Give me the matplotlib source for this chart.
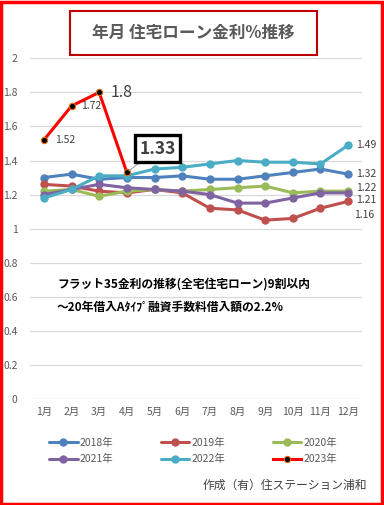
import matplotlib
matplotlib.use("Agg")
import matplotlib.pyplot as plt
from matplotlib.patches import Rectangle

plt.rcParams['font.family'] = ['Noto Sans CJK JP', 'DejaVu Sans']

# --- data ---
months = ["1月", "2月", "3月", "4月", "5月", "6月",
          "7月", "8月", "9月", "10月", "11月", "12月"]
r2018 = [1.30, 1.32, 1.29, 1.30, 1.30, 1.31, 1.29, 1.29, 1.31, 1.33, 1.35, 1.32]
r2019 = [1.26, 1.25, 1.22, 1.21, 1.23, 1.21, 1.12, 1.11, 1.05, 1.06, 1.12, 1.16]
r2020 = [1.22, 1.23, 1.19, 1.22, 1.23, 1.22, 1.23, 1.24, 1.25, 1.21, 1.22, 1.22]
r2021 = [1.20, 1.23, 1.26, 1.24, 1.23, 1.22, 1.20, 1.15, 1.15, 1.18, 1.21, 1.21]
r2022 = [1.18, 1.23, 1.31, 1.31, 1.35, 1.36, 1.38, 1.40, 1.39, 1.39, 1.38, 1.49]
r2023 = [1.52, 1.72, 1.80, 1.33]

series = [("2018年", r2018, "#4F81BD"),
          ("2019年", r2019, "#C0504D"),
          ("2020年", r2020, "#9BBB59"),
          ("2021年", r2021, "#8064A2"),
          ("2022年", r2022, "#4BACC6")]

W, H = 384, 505
fig = plt.figure(figsize=(W / 100, H / 100), dpi=100)

def fx(px):
    return px / W

def fy(py):
    return 1 - py / H

ax = fig.add_axes([fx(30), fy(399), fx(362) - fx(30), fy(58.3) - fy(399)])
x = list(range(12))

handles = []
for name, vals, col in series:
    h, = ax.plot(x, vals, color=col, lw=2.2, marker="o", ms=5, label=name,
                 solid_capstyle="round")
    handles.append(h)
h23, = ax.plot(x[:4], r2023, color="#FF0000", lw=2.2, marker="o", ms=4.5,
               mfc="black", mec="#E46C0A", mew=0.8, label="2023年")
handles.append(h23)

ax.set_xlim(-0.5, 11.5)
ax.set_ylim(0, 2)
ax.set_yticks([0, 0.2, 0.4, 0.6, 0.8, 1, 1.2, 1.4, 1.6, 1.8, 2])
ax.set_yticklabels(["0", "0.2", "0.4", "0.6", "0.8", "1", "1.2", "1.4",
                    "1.6", "1.8", "2"])
ax.set_xticks(x)
ax.set_xticklabels(months)
ax.grid(axis="y", color="#D9D9D9", lw=0.9)
ax.set_axisbelow(True)
for s in ax.spines.values():
    s.set_visible(False)
ax.tick_params(axis="y", length=0, pad=9, labelsize=7.5, labelcolor="#595959")
ax.tick_params(axis="x", length=0, pad=6, labelsize=7.5, labelcolor="#595959")

# data labels
lab = dict(fontsize=7.5, color="#404040", va="center", ha="left",
           textcoords="offset points")
ax.annotate("1.52", (0, r2023[0]), xytext=(8, 0), **lab)
ax.annotate("1.72", (1, r2023[1]), xytext=(7, 0), **lab)
ax.annotate("1.8", (2, r2023[2]), xytext=(8, 0),
            **{**lab, "fontsize": 11.5})
ax.annotate("1.33", (3, r2023[3]), xytext=(22, 17),
            textcoords="offset points", fontsize=12.5, fontweight="bold",
            color="#404040", va="center", ha="center",
            bbox=dict(boxstyle="square,pad=0.25", fc="white", ec="black", lw=2.4),
            arrowprops=dict(arrowstyle="-", color="#A6A6A6", lw=0.8,
                            shrinkA=0, shrinkB=2))
ax.annotate("1.49", (11, r2022[11]), xytext=(6, 0), **lab)
ax.annotate("1.32", (11, r2018[11]), xytext=(6, 0), **lab)
ax.annotate("1.22", (11, r2020[11]), xytext=(6, 2), **lab)
ax.annotate("1.21", (11, r2021[11]), xytext=(6, -5), **lab)
ax.annotate("1.16", (11, r2019[11]), xytext=(4, -10), **lab)

# note inside the plot
fig.text(fx(57), fy(284), "フラット35金利の推移(全宅住宅ローン)9割以内",
         fontsize=8.5, fontweight="bold", color="black", va="center")
fig.text(fx(57), fy(307), "～20年借入Aﾀｲﾌﾟ融資手数料借入額の2.2%",
         fontsize=8.5, fontweight="bold", color="black", va="center")

# title box
fig.patches.append(Rectangle((fx(70), fy(55)), fx(317) - fx(70), fy(11) - fy(55),
                             transform=fig.transFigure, fill=False,
                             ec="#C00000", lw=1.5))
fig.text(fx(193.5), fy(33), "年月 住宅ローン金利%推移", fontsize=12,
         fontweight="bold", color="#595959", ha="center", va="center")

# legend (row-major order like the original)
order = [0, 3, 1, 4, 2, 5]
fig.legend([handles[i] for i in order], [handles[i].get_label() for i in order],
           ncol=3, loc="center left", bbox_to_anchor=(fx(40), fy(451)),
           frameon=False, fontsize=7.5, handlelength=2.7, handletextpad=0.2,
           columnspacing=4.6, labelspacing=0.6, labelcolor="#595959")

# credit
fig.text(fx(367), fy(485), "作成（有）住ステーション浦和", fontsize=8.5,
         color="#404040", ha="right", va="center")

# outer red frame
fig.patches.append(Rectangle((0.002, 0.002), 0.994, 0.995,
                             transform=fig.transFigure, fill=False,
                             ec="#FF0000", lw=2.5))

fig.savefig("out.png", dpi=100)
